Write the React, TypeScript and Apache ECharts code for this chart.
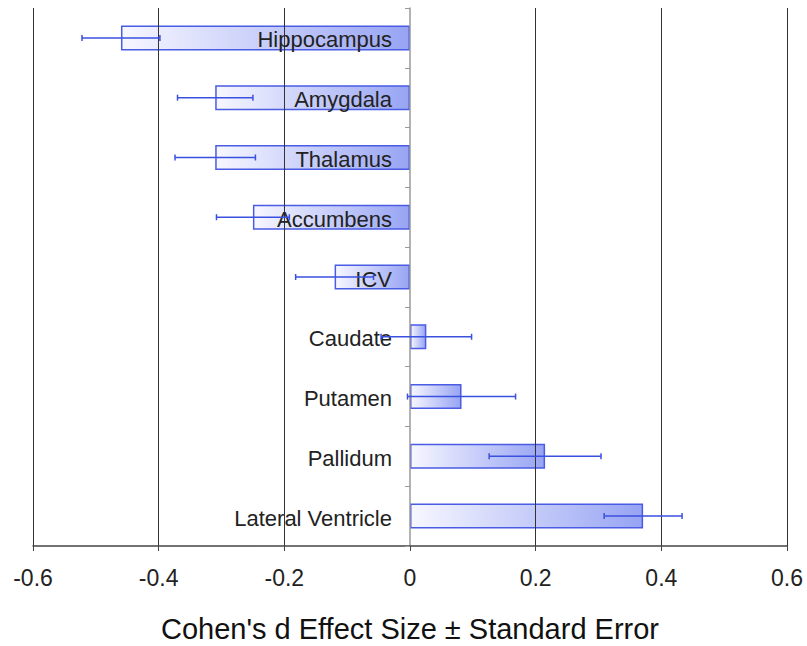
import React, { useEffect, useRef } from "react";
import * as echarts from "echarts";

// Brain regions, top to bottom
const categories = [
  "Hippocampus",
  "Amygdala",
  "Thalamus",
  "Accumbens",
  "ICV",
  "Caudate",
  "Putamen",
  "Pallidum",
  "Lateral Ventricle",
];

// Cohen's d effect size per region
const effectSize = [-0.46, -0.31, -0.31, -0.25, -0.12, 0.026, 0.082, 0.215, 0.371];

// Standard error of each effect size
const stdError = [0.062, 0.06, 0.064, 0.058, 0.062, 0.072, 0.086, 0.089, 0.062];

// X axis range and step
const xMin = -0.6;
const xMax = 0.6;
const xStep = 0.2;

const FONT = "'Liberation Sans', Arial, Helvetica, sans-serif";
const ERR_COLOR = "#3a50e0";

export default function App() {
  const ref = useRef<HTMLDivElement>(null);

  useEffect(() => {
    if (!ref.current) return;
    const chart = echarts.init(ref.current, null, { renderer: "svg" });

    const errorData = effectSize.map((v, i) => [i, v - stdError[i], v + stdError[i]]);
    const labelData = categories.map((name, i) => [i, 0, name]);

    const option: any = {
      animation: false,
      backgroundColor: "#ffffff",
      grid: {
        left: 33,
        right: 20,
        top: 8,
        bottom: 100,
        containLabel: false,
        outerBoundsMode: "none",
      },
      xAxis: {
        type: "value",
        min: xMin,
        max: xMax,
        interval: xStep,
        z: 2,
        name: "Cohen's d Effect Size \u00b1 Standard Error",
        nameLocation: "middle",
        nameGap: 68,
        nameTextStyle: { fontFamily: FONT, fontSize: 29, color: "#111" },
        axisLine: { show: true, onZero: false, lineStyle: { color: "#444", width: 1.5 } },
        axisTick: { show: true, length: 5, lineStyle: { color: "#444", width: 1 } },
        axisLabel: { fontFamily: FONT, fontSize: 23, color: "#222", margin: 20 },
        splitLine: {
          show: true,
          lineStyle: {
            color: ["#333", "#333", "#333", "rgba(0,0,0,0)", "#333", "#333", "#333"],
            width: 1,
          },
        },
      },
      yAxis: {
        type: "category",
        data: categories,
        inverse: true,
        z: 2,
        axisLine: { show: true, onZero: true, lineStyle: { color: "#9a9a9a", width: 1.5 } },
        axisTick: { show: true, length: 5, lineStyle: { color: "#9a9a9a", width: 1 } },
        axisLabel: { show: false },
        splitLine: { show: false },
      },
      series: [
        {
          type: "bar",
          data: effectSize,
          barWidth: 25,
          z: 1,
          itemStyle: {
            color: new echarts.graphic.LinearGradient(0, 0, 1, 0, [
              { offset: 0, color: "#f7f7ff" },
              { offset: 1, color: "#97a4f3" },
            ]),
            borderColor: "#4a5be4",
            borderWidth: 1.5,
          },
        },
        {
          // region names, right-aligned just left of the zero line
          type: "custom",
          z: 3,
          data: labelData,
          encode: { y: 0, x: 1 },
          renderItem: (params: any, api: any) => {
            const i = params.dataIndex;
            const p = api.coord([api.value(1), api.value(0)]);
            return {
              type: "text",
              x: p[0] - 18,
              y: p[1] + 2,
              style: {
                text: categories[i],
                fontFamily: FONT,
                fontSize: 22,
                fill: "#222",
                align: "right",
                verticalAlign: "middle",
              },
            };
          },
        },
        {
          type: "custom",
          z: 4,
          data: errorData,
          encode: { y: 0, x: [1, 2] },
          renderItem: (params: any, api: any) => {
            const idx = api.value(0);
            const lo = api.coord([api.value(1), idx]);
            const hi = api.coord([api.value(2), idx]);
            const cap = 3;
            const style = { stroke: ERR_COLOR, lineWidth: 1.5 };
            return {
              type: "group",
              children: [
                { type: "line", shape: { x1: lo[0], y1: lo[1], x2: hi[0], y2: hi[1] }, style },
                { type: "line", shape: { x1: lo[0], y1: lo[1] - cap, x2: lo[0], y2: lo[1] + cap }, style },
                { type: "line", shape: { x1: hi[0], y1: hi[1] - cap, x2: hi[0], y2: hi[1] + cap }, style },
              ],
            };
          },
        },
      ],
    };

    chart.setOption(option);
    return () => chart.dispose();
  }, []);

  return (
    <div
      ref={ref}
      style={{ position: "fixed", left: 0, top: 0, width: 807, height: 646, background: "#fff" }}
    />
  );
}
